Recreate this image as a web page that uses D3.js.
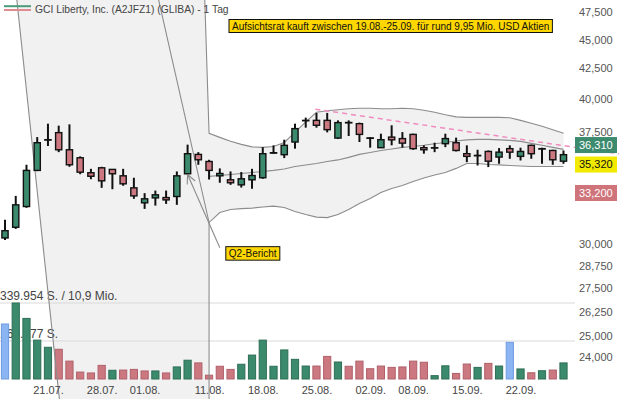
<!DOCTYPE html>
<html>
<head>
<meta charset="utf-8">
<script src="https://cdn.jsdelivr.net/npm/d3@7"></script>
<style>
  body { margin: 0; background: #fff; }
  svg { display: block; font-family: "Liberation Sans", Arial, sans-serif; }
</style>
</head>
<body>
<div id="chart"></div>
<script>
// trading days shown (15.07. - 26.09.)
const dates = ["15.07.","16.07.","17.07.","18.07.","21.07.","22.07.","23.07.","24.07.","25.07.",
  "28.07.","29.07.","30.07.","31.07.","01.08.","04.08.","05.08.","06.08.","07.08.","08.08.",
  "11.08.","12.08.","13.08.","14.08.","15.08.","18.08.","19.08.","20.08.","21.08.","22.08.",
  "25.08.","26.08.","27.08.","28.08.","29.08.","02.09.","03.09.","04.09.","05.09.",
  "08.09.","09.09.","10.09.","11.09.","12.09.","15.09.","16.09.","17.09.","18.09.","19.09.",
  "22.09.","23.09.","24.09.","25.09.","26.09."];

const opens = [30370,31020,32320,34720,36880,37420,36170,35600,34560,34900,34790,34350,33540,32560,32880,32900,32970,34490,35840,
  35340,34350,34080,33740,34080,34220,35940,35820,36730,38320,38340,38340,37020,38180,38090,37030,36320,37090,36980,
  37290,36320,36310,36610,36680,35890,35760,36050,35650,36250,35700,36490,36240,36120,35360];
const highs = [31480,33010,35110,37090,38090,37940,38040,35700,34830,34970,34800,34830,34220,33190,33360,33360,34650,36540,36000,
  35460,34860,34650,34610,34830,36360,36490,36900,38090,38550,38910,38910,38340,38340,38170,37090,37340,37970,37460,
  37340,36490,36680,37340,37050,36490,36170,36120,36290,36490,36320,36540,36320,36170,36120];
const lows = [30250,30920,32240,34670,36440,36000,34970,34460,34120,33540,33450,33680,32820,32170,32380,32490,32430,34440,35110,
  34100,33880,33740,33560,33480,34150,35890,35580,36250,37790,37790,37440,36950,37170,36730,36320,36290,36490,36320,
  36170,35890,36000,36360,36050,35290,35060,34950,35180,35530,35410,35530,35180,35110,35180];
const closes = [30810,32430,34720,36680,36900,36170,35110,34600,34320,34010,34490,33810,33010,32820,33080,32750,34350,35890,35460,
  34720,34510,33880,34150,34370,35890,35960,36490,37720,38340,37970,37640,38170,38150,37290,37020,36900,36890,36650,
  36250,36170,36320,36980,36120,35700,35770,35360,36000,36000,36050,35890,36250,35460,35820];
const volumes = [246000,339954,271000,174000,142000,133000,80000,31000,27000,61000,39000,40000,43000,36000,36000,27000,54000,84000,72000,
  17000,57000,43000,66000,107000,174000,57000,130000,88000,58000,58000,101000,76000,57000,80000,46000,58000,52000,54000,
  80000,75000,15000,59000,25000,67000,52000,70000,58000,164000,45000,28000,37000,40000,72000];

// Bollinger band (20) as drawn, starts on 11.08.
const bbUpper = [null,null,null,null,null,null,null,null,null,null,null,null,null,null,null,null,null,null,null,
  37370,37070,36780,36560,36380,36340,36410,36700,37440,38230,38960,39080,39160,39230,39270,39270,39230,39230,39270,
  39230,39120,38960,38770,38610,38570,38570,38570,38570,38540,38340,38120,37890,37630,37370];
const bbMiddle = [null,null,null,null,null,null,null,null,null,null,null,null,null,null,null,null,null,null,null,
  34310,34370,34440,34510,34580,34650,34720,34820,34990,35100,35200,35340,35450,35630,35840,35980,36120,36230,36340,
  36410,36490,36600,36700,36810,36890,36920,36920,36890,36850,36780,36630,36490,36340,36200];
const bbLower = [null,null,null,null,null,null,null,null,null,null,null,null,null,null,null,null,null,null,null,
  31310,31940,32130,32190,32220,32290,32350,32260,32000,31810,31650,31620,31810,32130,32510,32840,33230,33500,33700,
  33970,34200,34410,34580,34860,35200,35200,35130,35100,35060,35030,34990,34990,34990,34990];

// lead-in of the band before its first value (index, price)
const leadTop = 48700, leadBottom = 21900;
const shadeEdge = [[1.1, leadTop], [5.1, leadBottom]];
const upperLeadStart = [18.6, leadTop];
const lowerLeadStart = [14.3, leadTop];

// dashed resistance line
const trendLine = [[28.9, 39200], [57.2, 35880]];

const priceTicks = [47500,45000,42500,40000,37500,35000,32500,30000,28750,27500,26250,25000,24000];
const priceMarks = [36310, 35320, 33200];
const markFill = ["#3d8b6f", "#f2ea00", "#d0747c"];
const markInk = ["#fff", "#111", "#fff"];
const dateTicks = ["21.07.","28.07.","01.08.","11.08.","18.08.","25.08.","02.09.","08.09.","15.09.","22.09."];
const turnoverMio = 10.9;

const title = "GCI Liberty, Inc. (A2JFZ1) (GLIBA) - 1 Tag";
const note = "Aufsichtsrat kauft zwischen 19.08.-25.09. für rund 9,95 Mio. USD Aktien";
const q2 = {date: "07.08.", text: "Q2-Bericht", at: [20.0, 29790]};

const W = 619, H = 399;
const GREEN = "#3c8a6d", RED = "#cb7880", BLUE = "#8ab4f2";
const de = d3.formatLocale({decimal: ",", thousands: ".", grouping: [3], currency: ["", ""]});

const svg = d3.select("#chart").append("svg").attr("width", W).attr("height", H);

const x = d3.scaleLinear().domain([0, dates.length - 1]).range([5, 563.5]);
const y = d3.scaleLog().domain([24000, 47500]).range([356.7, 12.3]);
const volMax = d3.max(volumes);
const yVol = d3.scaleLinear().domain([0, volMax]).range([379, 303]);

const band = dates.map((d, i) => ({i, u: bbUpper[i], m: bbMiddle[i], l: bbLower[i]})).filter(d => d.u != null);
const first = band[0];

// shaded zone
const pts = [];
pts.push([x(shadeEdge[0][0]), y(shadeEdge[0][1])]);
pts.push([x(upperLeadStart[0]), y(upperLeadStart[1])]);
band.forEach(d => pts.push([x(d.i), y(d.u)]));
band.slice().reverse().forEach(d => pts.push([x(d.i), y(d.l)]));
pts.push([x(first.i), y(leadBottom)]);
pts.push([x(shadeEdge[1][0]), y(shadeEdge[1][1])]);
svg.append("path").attr("d", "M" + pts.join("L") + "Z").attr("fill", "#f1f1f1");

// volume grid + labels
const fmtVol = de.format(",d");
svg.selectAll(".vgrid").data([volMax, volMax / 2]).enter().append("line")
  .attr("x1", 0).attr("x2", 575)
  .attr("y1", d => yVol(d)).attr("y2", d => yVol(d))
  .attr("stroke", "#d9d9d9");
svg.append("text").attr("x", 0).attr("y", yVol(volMax) - 3)
  .attr("font-size", 12).attr("fill", "#444")
  .text(`${fmtVol(volMax)} S. / ${de.format(".1f")(turnoverMio)} Mio.`);
svg.append("text").attr("x", 0).attr("y", yVol(volMax / 2) - 3)
  .attr("font-size", 12).attr("fill", "#444")
  .text(`${fmtVol(Math.round(volMax / 2))} S.`);

// volume bars
const volColor = i => i === 0 || closes[i] === closes[i - 1] ? 0 : closes[i] > closes[i - 1] ? 1 : 2;
svg.selectAll(".vol").data(volumes).enter().append("rect")
  .attr("x", (d, i) => x(i) - 3.6).attr("width", 7.2)
  .attr("y", d => yVol(d)).attr("height", d => yVol(0) - yVol(d))
  .attr("fill", (d, i) => [BLUE, GREEN, RED][volColor(i)])
  .attr("stroke", (d, i) => ["#6f9be0", "#2d6e55", "#b0606a"][volColor(i)])
  .attr("stroke-width", 1);

// band lines
const gl = d3.line();
const lineStyle = sel => sel.attr("fill", "none").attr("stroke", "#8c8c8c").attr("stroke-width", 1.1);
svg.append("path").attr("d", gl(shadeEdge.map(p => [x(p[0]), y(p[1])]))).call(lineStyle);
svg.append("path").attr("d", gl([[x(upperLeadStart[0]), y(upperLeadStart[1])]].concat(band.map(d => [x(d.i), y(d.u)])))).call(lineStyle);
svg.append("path").attr("d", gl([[x(lowerLeadStart[0]), y(lowerLeadStart[1])]].concat(band.map(d => [x(d.i), y(d.l)])))).call(lineStyle);
svg.append("path").attr("d", gl([[x(first.i), y(first.l)], [x(first.i), y(leadBottom)]])).call(lineStyle);
svg.append("path").attr("d", gl(band.map(d => [x(d.i), y(d.m)]))).call(lineStyle);

// trend line
svg.append("path").attr("d", gl(trendLine.map(p => [x(p[0]), y(p[1])])))
  .attr("fill", "none").attr("stroke", "#f08cbf").attr("stroke-width", 1.5).attr("stroke-dasharray", "5,4");

// candles
const candles = svg.append("g");
candles.selectAll(".wick").data(dates).enter().append("line")
  .attr("x1", (d, i) => x(i)).attr("x2", (d, i) => x(i))
  .attr("y1", (d, i) => y(highs[i])).attr("y2", (d, i) => y(lows[i]))
  .attr("stroke", "#111").attr("stroke-width", 2);
candles.selectAll(".body").data(dates).enter().append("rect")
  .attr("x", (d, i) => x(i) - 3.1).attr("width", 6.2)
  .attr("y", (d, i) => y(Math.max(opens[i], closes[i])))
  .attr("height", (d, i) => Math.max(0.4, y(Math.min(opens[i], closes[i])) - y(Math.max(opens[i], closes[i]))))
  .attr("fill", (d, i) => closes[i] >= opens[i] ? GREEN : RED)
  .attr("stroke", "#111").attr("stroke-width", 1.4);

// Q2 annotation
const qi = dates.indexOf(q2.date);
const tip = [x(qi), y(lows[qi])];
const tail = [x(q2.at[0]), y(q2.at[1])];
svg.append("line").attr("x1", tail[0]).attr("y1", tail[1]).attr("x2", tip[0]).attr("y2", tip[1])
  .attr("stroke", "#8c8c8c").attr("stroke-width", 1.1);
const ang = Math.atan2(tail[1] - tip[1], tail[0] - tip[0]);
[-0.45, 0.45].forEach(a => {
  svg.append("line").attr("x1", tip[0]).attr("y1", tip[1])
    .attr("x2", tip[0] + 10 * Math.cos(ang + a)).attr("y2", tip[1] + 10 * Math.sin(ang + a))
    .attr("stroke", "#8c8c8c").attr("stroke-width", 1.1);
});
const qg = svg.append("g").attr("transform", `translate(${tail[0] + 6},${tail[1] - 1})`);
const qt = qg.append("text").attr("x", 3).attr("y", 10).attr("font-size", 10).attr("fill", "#111").text(q2.text);
const qb = qt.node().getBBox();
qg.insert("rect", "text").attr("x", 0).attr("y", 0).attr("width", qb.width + 6).attr("height", 13.5)
  .attr("fill", "#ffd700").attr("stroke", "#111").attr("stroke-width", 1);

// price marks (pushed apart when they collide)
const marks = priceMarks.map((v, k) => ({v, k, cy: y(v)})).sort((a, b) => a.cy - b.cy);
for (let pass = 0; pass < 4; pass++) {
  for (let k = 1; k < marks.length; k++) {
    const gap = marks[k].cy - marks[k - 1].cy;
    if (gap < 19.5) { const d = (19.5 - gap) / 2; marks[k - 1].cy -= d; marks[k].cy += d; }
  }
}

// price axis, ticks under a mark box are left out
const shownTicks = priceTicks.filter(v => marks.every(m => Math.abs(y(v) - m.cy) > 13));
svg.append("g").attr("transform", "translate(579,0)")
  .call(d3.axisRight(y).tickValues(shownTicks).tickFormat(d3.format(",")).tickSize(0).tickPadding(0))
  .attr("font-size", 11).attr("font-family", null)
  .call(g => g.select(".domain").remove())
  .call(g => g.selectAll("text").attr("fill", "#555"));

const mg = svg.selectAll(".mark").data(marks).enter().append("g")
  .attr("transform", d => `translate(575,${d.cy})`);
mg.append("rect").attr("x", 0).attr("y", -8).attr("width", 42).attr("height", 16)
  .attr("fill", d => markFill[d.k]);
mg.append("text").attr("x", 4).attr("dy", "0.35em").attr("font-size", 11)
  .attr("fill", d => markInk[d.k]).text(d => d3.format(",")(d.v));

// date axis
svg.append("g").attr("transform", "translate(0,386.2)")
  .call(d3.axisBottom(x).tickValues(dateTicks.map(d => dates.indexOf(d))).tickFormat(i => dates[i]).tickSize(0).tickPadding(0))
  .attr("font-size", 11).attr("font-family", null)
  .call(g => g.select(".domain").remove())
  .call(g => g.selectAll("text").attr("fill", "#444"));

// header
svg.append("line").attr("x1", 4).attr("x2", 31).attr("y1", 6.2).attr("y2", 6.2).attr("stroke", "#4a9a7b").attr("stroke-width", 2);
svg.append("line").attr("x1", 4).attr("x2", 31).attr("y1", 10).attr("y2", 10).attr("stroke", "#e08a92").attr("stroke-width", 2);
svg.append("text").attr("x", 35).attr("y", 13).attr("font-size", 10.3).attr("fill", "#444").text(title);

const ng = svg.append("g").attr("transform", "translate(229,19.5)");
const nt = ng.append("text").attr("x", 3).attr("y", 10).attr("font-size", 10).attr("fill", "#111").text(note);
const nb = nt.node().getBBox();
ng.insert("rect", "text").attr("x", 0).attr("y", 0).attr("width", nb.width + 6).attr("height", 13)
  .attr("fill", "#ffd700").attr("stroke", "#111").attr("stroke-width", 1);
</script>
</body>
</html>
